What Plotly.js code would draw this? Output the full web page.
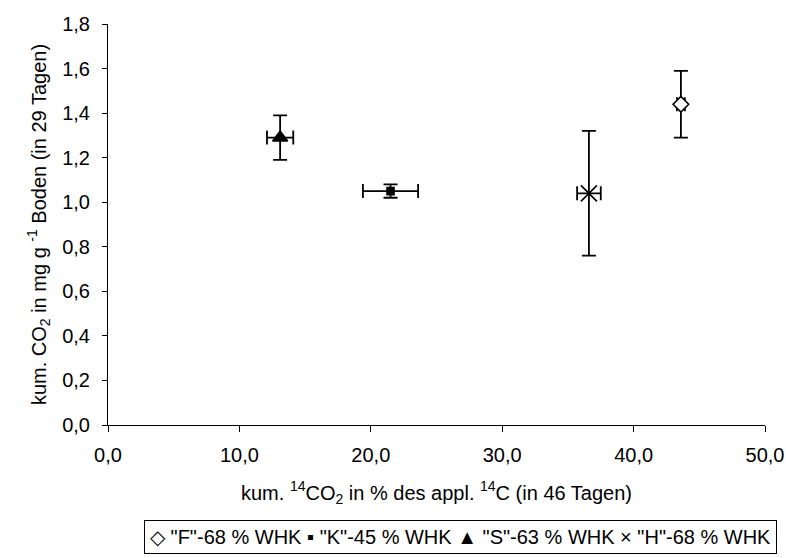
<!DOCTYPE html>
<html><head><meta charset="utf-8">
<script src="https://cdn.plot.ly/plotly-3.0.1.min.js"></script>
<style>body{margin:0;background:#fff}#c{width:786px;height:558px}</style>
</head><body><div id="c"></div>
<script>
const names = ['"F"-68 % WHK', '"K"-45 % WHK', '"S"-63 % WHK', '"H"-68 % WHK'];
const legendGlyphs = ['\u25C7', '\u25AA', '\u25B2', '\u00D7'];
const xVals = [43.6, 21.5, 13.1, 36.6];
const xErr  = [0.3, 2.1, 1.0, 0.9];
const yVals = [1.44, 1.05, 1.29, 1.04];
const yErr  = [0.15, 0.03, 0.10, 0.28];
const symbols = ['diamond', 'square', 'triangle-up', 'x-thin-open'];
const fills = ['#fff', '#000', '#000', '#000'];
const sizes = [12, 7, 13, 16];

const traces = names.map((n, i) => ({
  type: 'scatter', mode: 'markers', name: n,
  x: [xVals[i]], y: [yVals[i]],
  marker: {symbol: symbols[i], size: sizes[i], color: fills[i], line: {color: '#000', width: 1.6}},
  error_x: {type: 'data', array: [xErr[i]], color: '#000', thickness: 1.8, width: 7},
  error_y: {type: 'data', array: [yErr[i]], color: '#000', thickness: 1.8, width: 7}
}));

const legendText = names.map((n, i) => legendGlyphs[i] + ' ' + n).join(' ');

const layout = {
  width: 786, height: 558,
  paper_bgcolor: '#fff', plot_bgcolor: '#fff',
  separators: ', ',
  font: {family: 'Liberation Sans, Arial, sans-serif', size: 20, color: '#000'},
  margin: {l: 108, r: 21, t: 24, b: 133},
  showlegend: false,
  annotations: [{
    xref: 'paper', yref: 'paper', x: (777 - 108) / 657, y: (425 - 537) / 401,
    xanchor: 'right', yanchor: 'middle', showarrow: false,
    text: legendText, font: {size: 20, color: '#000'},
    bordercolor: '#000', borderwidth: 1, borderpad: 5
  }],
  xaxis: {range: [0, 50], dtick: 10, tickformat: '.1f', showgrid: false, zeroline: false,
    showline: true, linecolor: '#000', linewidth: 1, ticks: 'outside', ticklen: 6, tickcolor: '#000',
    tickfont: {size: 20}, ticklabelstandoff: 6,
    title: {text: 'kum. <sup>14</sup>CO<sub>2</sub> in % des appl. <sup>14</sup>C (in 46 Tagen)', standoff: 20, font: {size: 20}}},
  yaxis: {range: [0, 1.8], dtick: 0.2, tickformat: '.1f', showgrid: false, zeroline: false,
    showline: true, linecolor: '#000', linewidth: 1, ticks: 'outside', ticklen: 5, tickcolor: '#000',
    tickfont: {size: 20}, ticklabelstandoff: 8,
    title: {text: 'kum. CO<sub>2</sub> in mg g <sup>-1</sup> Boden (in 29 Tagen)', standoff: 10, font: {size: 20}}}
};
Plotly.newPlot('c', traces, layout, {displayModeBar: false, staticPlot: true});
</script></body></html>
